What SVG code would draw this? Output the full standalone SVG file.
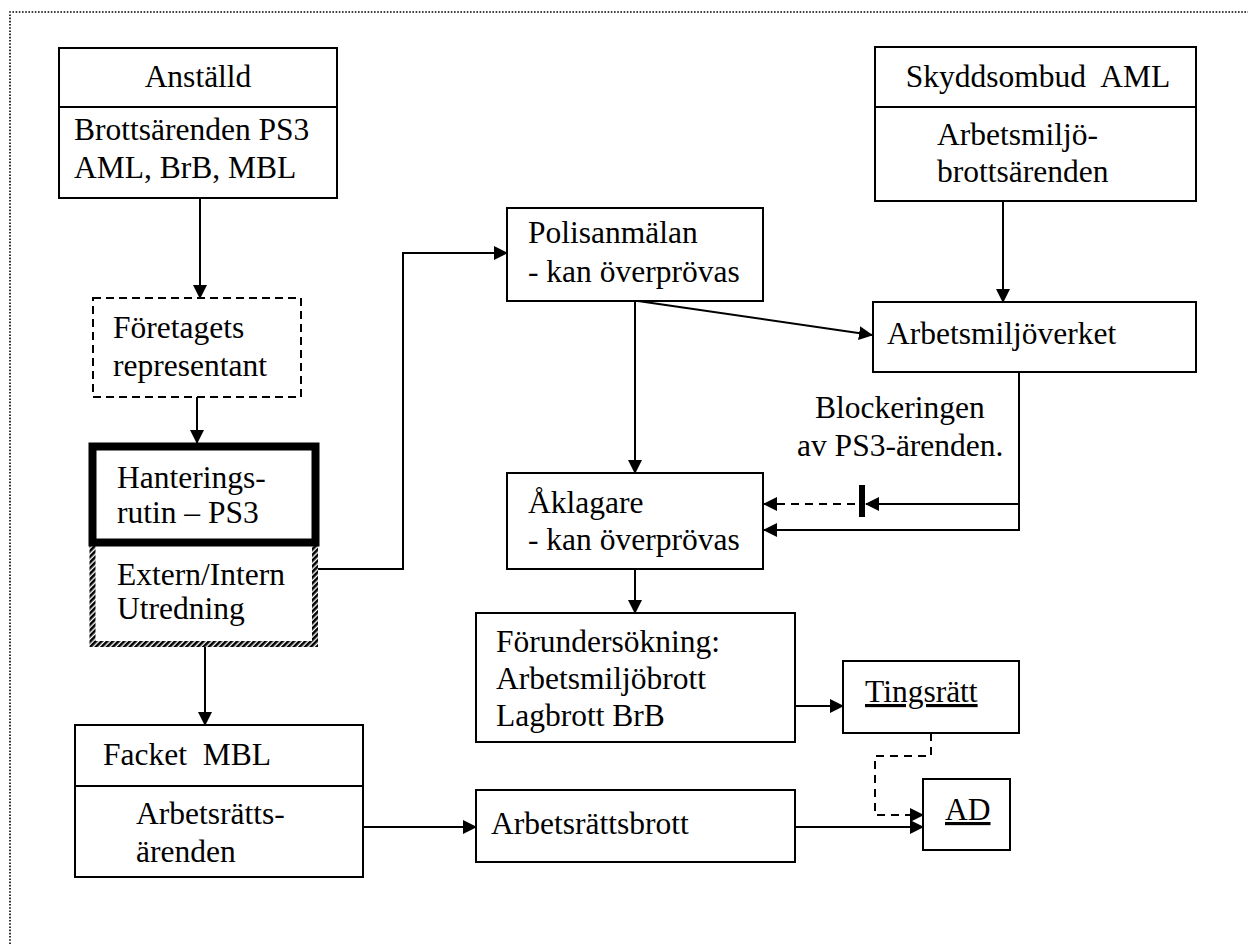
<svg xmlns="http://www.w3.org/2000/svg" width="1248" height="944" viewBox="0 0 1248 944">
  <style>
    .box { fill: #fff; stroke: #000; stroke-width: 2; }
    .dash { fill: #fff; stroke: #000; stroke-width: 2; stroke-dasharray: 8 5; }
    .lbl { font-family: "Liberation Serif", "DejaVu Serif", serif; font-size: 31.5px; fill: #000; }
    .u { text-decoration: underline; }
    .ln { fill: none; stroke: #000; stroke-width: 2; }
    .arr { marker-end: url(#head); }
    .dl { stroke-dasharray: 8 6; }
  </style>
  <defs>
    <marker id="head" markerUnits="userSpaceOnUse" markerWidth="14" markerHeight="14" viewBox="0 0 14 14" refX="13" refY="7" orient="auto">
      <path d="M0,0 L14,7 L0,14 z" fill="#000"/>
    </marker>
    <pattern id="hatch" patternUnits="userSpaceOnUse" width="4" height="4" patternTransform="rotate(45)">
      <rect width="4" height="4" fill="#fff"/>
      <rect width="2.6" height="4" fill="#000"/>
    </pattern>
  </defs>

  <rect width="1248" height="944" fill="#fff"/>
  <!-- page frame, dotted -->
  <path d="M10,944 V12 H1248" fill="none" stroke="#000" stroke-width="1.6" stroke-dasharray="1.6 1.6"/>

  <g id="connectors">
    <line class="ln arr" x1="200" y1="198" x2="200" y2="298"/>
    <line class="ln arr" x1="197" y1="397" x2="197" y2="443"/>
    <polyline class="ln arr" points="318,569 403,569 403,253 507,253"/>
    <line class="ln arr" x1="635" y1="301" x2="635" y2="473"/>
    <line class="ln arr" x1="638" y1="301" x2="872" y2="335"/>
    <line class="ln arr" x1="1003" y1="201" x2="1003" y2="302"/>
    <polyline class="ln arr" points="1019,372 1019,530 764,530"/>
    <line class="ln arr" x1="1019" y1="504" x2="866" y2="504"/>
    <rect x="859" y="485" width="6" height="32" fill="#000"/>
    <line class="ln arr dl" x1="855" y1="504" x2="764" y2="504"/>
    <line class="ln arr" x1="635" y1="569" x2="635" y2="613"/>
    <line class="ln arr" x1="795" y1="706" x2="843" y2="706"/>
    <polyline class="ln arr dl" points="931,733 931,756 875,756 875,815 923,815"/>
    <line class="ln arr" x1="205" y1="647" x2="205" y2="725"/>
    <line class="ln arr" x1="363" y1="827" x2="476" y2="827"/>
    <line class="ln arr" x1="795" y1="827" x2="923" y2="827"/>
  </g>

  <g id="anstalld">
    <rect class="box" x="59" y="48" width="278" height="150"/>
    <line class="ln" x1="59" y1="107" x2="337" y2="107"/>
    <text class="lbl" x="198" y="87" text-anchor="middle">Anställd</text>
    <text class="lbl" x="74" y="140">Brottsärenden PS3</text>
    <text class="lbl" x="74" y="178">AML, BrB, MBL</text>
  </g>

  <g id="foretagets">
    <rect class="dash" x="93" y="298" width="208" height="99"/>
    <text class="lbl" x="113" y="338">Företagets</text>
    <text class="lbl" x="113" y="376">representant</text>
  </g>

  <g id="utredning">
    <rect x="92.5" y="543" width="222.5" height="101" fill="#fff" stroke="url(#hatch)" stroke-width="6"/>
    <text class="lbl" x="117" y="585">Extern/Intern</text>
    <text class="lbl" x="117" y="619">Utredning</text>
  </g>

  <g id="hantering">
    <rect x="92.5" y="446.5" width="223" height="96" fill="#fff" stroke="#000" stroke-width="8"/>
    <text class="lbl" x="117" y="488">Hanterings-</text>
    <text class="lbl" x="117" y="523">rutin – PS3</text>
  </g>

  <g id="polisanmalan">
    <rect class="box" x="507" y="208" width="256" height="93"/>
    <text class="lbl" x="528" y="243">Polisanmälan</text>
    <text class="lbl" x="528" y="282">- kan överprövas</text>
  </g>

  <g id="skyddsombud">
    <rect class="box" x="875" y="47" width="321" height="154"/>
    <line class="ln" x1="875" y1="107" x2="1196" y2="107"/>
    <text class="lbl" x="1038" y="87" text-anchor="middle" xml:space="preserve">Skyddsombud  AML</text>
    <text class="lbl" x="937" y="145">Arbetsmiljö-</text>
    <text class="lbl" x="937" y="182">brottsärenden</text>
  </g>

  <g id="arbetsmiljoverket">
    <rect class="box" x="873" y="302" width="323" height="70"/>
    <text class="lbl" x="887" y="344">Arbetsmiljöverket</text>
  </g>

  <g id="blockering">
    <text class="lbl" x="815" y="418">Blockeringen</text>
    <text class="lbl" x="797" y="456">av PS3-ärenden.</text>
  </g>

  <g id="aklagare">
    <rect class="box" x="507" y="473" width="256" height="96"/>
    <text class="lbl" x="528" y="513">Åklagare</text>
    <text class="lbl" x="528" y="550">- kan överprövas</text>
  </g>

  <g id="forundersokning">
    <rect class="box" x="476" y="613" width="319" height="129"/>
    <text class="lbl" x="496" y="652">Förundersökning:</text>
    <text class="lbl" x="496" y="689">Arbetsmiljöbrott</text>
    <text class="lbl" x="496" y="726">Lagbrott BrB</text>
  </g>

  <g id="tingsratt">
    <rect class="box" x="843" y="661" width="176" height="72"/>
    <text class="lbl u" x="865" y="702">Tingsrätt</text>
  </g>

  <g id="ad">
    <rect class="box" x="923" y="779" width="87" height="71"/>
    <text class="lbl u" x="945" y="820">AD</text>
  </g>

  <g id="facket">
    <rect class="box" x="75" y="725" width="288" height="152"/>
    <line class="ln" x1="75" y1="786" x2="363" y2="786"/>
    <text class="lbl" x="103" y="765" xml:space="preserve">Facket  MBL</text>
    <text class="lbl" x="136" y="824">Arbetsrätts-</text>
    <text class="lbl" x="136" y="862">ärenden</text>
  </g>

  <g id="arbetsrattsbrott">
    <rect class="box" x="476" y="790" width="319" height="72"/>
    <text class="lbl" x="491" y="834">Arbetsrättsbrott</text>
  </g>
</svg>
